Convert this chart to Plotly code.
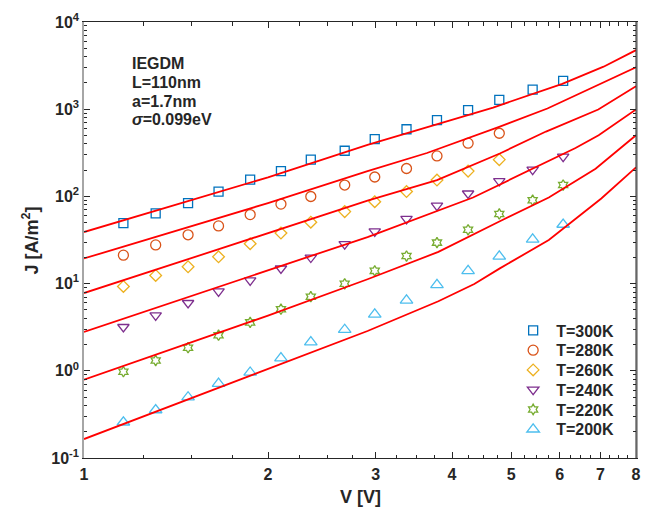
import numpy as np
import plotly.graph_objects as go

# Measured J-V points (voltage in V, current density in A/m^2)
v_meas = [1.16, 1.31, 1.48, 1.66, 1.87, 2.10, 2.35, 2.67, 2.99, 3.37, 3.78, 4.25, 4.78, 5.42, 6.08]

j_300 = [49.3, 64, 83.7, 113.6, 155.5, 195, 264, 334, 453, 589, 750, 975, 1278, 1673, 2115]
j_280 = [21.2, 27.8, 36.3, 45.9, 61.9, 81.6, 99.7, 135, 167, 209, 291, 408, 530]
j_260 = [9.27, 12.4, 15.6, 20.3, 28.7, 38.0, 50.6, 66.9, 86.9, 113.6, 154, 195, 264]
j_240 = [3.18, 4.31, 5.99, 8.14, 10.9, 14.9, 19.9, 28.3, 39.7, 55.1, 78.2, 108, 150, 203, 286]
j_220 = [0.975, 1.31, 1.84, 2.56, 3.59, 5.09, 7.08, 9.95, 14.0, 20.7, 29.5, 41.4, 62.9, 90.5, 135]
j_200 = [0.257, 0.355, 0.498, 0.713, 0.957, 1.40, 2.13, 2.96, 4.43, 6.43, 9.69, 14.0, 20.5, 32.2, 47.6]

# IEGDM model curves
fit_v_300 = [1, 2, 2.91, 3.78, 4.67, 6.06, 7.08, 8]
fit_j_300 = [39.0, 165.5, 390.7, 670.6, 1045, 1956, 3073, 4753]
fit_v_280 = [1, 2, 2.91, 3.64, 4.79, 5.73, 8]
fit_j_280 = [19.4, 83.8, 195.1, 314.6, 631.8, 1018, 3025]
fit_v_260 = [1, 2, 2.91, 3.78, 4.79, 5.70, 6.94, 8]
fit_j_260 = [7.79, 37.5, 89.2, 153.5, 310.5, 554.3, 992, 1832]
fit_v_240 = [1, 2, 2.91, 4.33, 5.42, 6.37, 6.95, 8]
fit_j_240 = [2.79, 14.0, 34.2, 97.2, 208.8, 358.4, 503.2, 992]
fit_v_220 = [1, 2, 2.91, 3.80, 4.79, 5.76, 6.87, 8]
fit_j_220 = [0.791, 4.30, 11.22, 23.1, 51.9, 97.2, 207.2, 503]
fit_v_200 = [1, 2, 2.91, 3.80, 4.35, 4.79, 5.76, 7.02, 8]
fit_j_200 = [0.165, 1.04, 2.86, 6.27, 9.90, 14.95, 31.6, 94.7, 215]

temps = ["T=300K", "T=280K", "T=260K", "T=240K", "T=220K", "T=200K"]
meas = [j_300, j_280, j_260, j_240, j_220, j_200]
fits = [(fit_v_300, fit_j_300), (fit_v_280, fit_j_280), (fit_v_260, fit_j_260),
        (fit_v_240, fit_j_240), (fit_v_220, fit_j_220), (fit_v_200, fit_j_200)]

colors = ["#0072BD", "#D95319", "#EDB120", "#7E2F8E", "#77AC30", "#4DBEEE"]
symbols = ["square-open", "circle-open", "diamond-open", "triangle-down-open",
           "hexagram-open", "triangle-up-open"]
sizes = [9, 10, 9, 10, 8, 11]

x_major = [1, 2, 3, 4, 5, 6, 7, 8]
x_minor = [v for v in np.arange(1.25, 8.0, 0.25) if abs(v - round(v)) > 1e-6]
y_major = [0.1, 1, 10, 100, 1000, 10000]
y_major_text = ["<b>10<sup>-1</sup></b>", "<b>10<sup>0</sup></b>", "<b>10<sup>1</sup></b>",
                "<b>10<sup>2</sup></b>", "<b>10<sup>3</sup></b>", "<b>10<sup>4</sup></b>"]
y_minor = [m * 10.0 ** e for e in range(-1, 4) for m in range(2, 10)]

ink = "#262626"
font_family = "Liberation Sans, Arial, sans-serif"

# plot area in pixels (used to place legend rows and text in paper units)
W, H = 652, 509
ML, MR, MT, MB = 84, 11, 17, 51
PW, PH = W - ML - MR, H - MT - MB


def px_x(px):
    return (px - ML) / PW


def px_y(py):
    return (H - MB - py) / PH


fig = go.Figure()

legend_names = ["legend", "legend2", "legend3", "legend4", "legend5", "legend6"]
for name, j, c, s, sz, lg in zip(temps, meas, colors, symbols, sizes, legend_names):
    fig.add_trace(go.Scatter(
        x=v_meas[:len(j)], y=j, mode="markers", name="<b>" + name + "</b>",
        marker=dict(symbol=s, size=sz, color=c, line=dict(width=1.3, color=c)),
        legend=lg,
    ))

for fv, fj in fits:
    fig.add_trace(go.Scatter(
        x=fv, y=fj, mode="lines", showlegend=False,
        line=dict(color="#FF0000", width=1.8),
    ))

# one single-entry legend per temperature, stacked 20 px apart
legend_rows = [329, 349, 369, 389, 409, 429]
legend_layout = {}
for lg, row in zip(legend_names, legend_rows):
    legend_layout[lg] = dict(
        x=px_x(514), y=px_y(row), xanchor="left", yanchor="middle",
        bgcolor="rgba(0,0,0,0)", borderwidth=0,
        font=dict(size=16, color=ink, family=font_family),
        itemwidth=36,
    )

fig.update_layout(
    width=W, height=H,
    margin=dict(l=ML, r=MR, t=MT, b=MB),
    paper_bgcolor="white", plot_bgcolor="white",
    font=dict(family=font_family, color=ink, size=16),
    showlegend=True,
    xaxis=dict(
        type="log", range=[0, np.log10(8)],
        tickmode="array", tickvals=x_major, ticktext=["<b>%d</b>" % v for v in x_major],
        ticks="inside", ticklen=6, tickwidth=1, tickcolor=ink,
        showline=True, linecolor=ink, linewidth=1, mirror="ticks",
        showgrid=False, zeroline=False, ticklabelstandoff=2,
        tickfont=dict(size=16, color=ink, family=font_family),
        minor=dict(tickmode="array", tickvals=x_minor, ticks="inside",
                   ticklen=3.5, tickwidth=1, tickcolor=ink, showgrid=False),
    ),
    yaxis=dict(
        type="log", range=[-1, 4],
        tickmode="array", tickvals=y_major, ticktext=y_major_text,
        ticks="inside", ticklen=6, tickwidth=1, tickcolor=ink,
        showline=True, linecolor="#a6a6a6", linewidth=1.5, mirror="ticks",
        showgrid=False, zeroline=False,
        tickfont=dict(size=16, color=ink, family=font_family),
        minor=dict(tickmode="array", tickvals=y_minor, ticks="inside",
                   ticklen=3.5, tickwidth=1, tickcolor=ink, showgrid=False),
    ),
    shapes=[dict(type="line", xref="paper", yref="paper", x0=1, x1=1, y0=0, y1=1,
                 line=dict(color=ink, width=1))],
    **legend_layout,
)

annotations = [
    dict(text="<b>V [V]</b>", x=0.5, y=px_y(497), xref="paper", yref="paper",
         xanchor="center", yanchor="middle", showarrow=False, font=dict(size=18)),
    dict(text="<b>J [A/m<sup>2</sup>]</b>", x=px_x(30), y=0.5, xref="paper", yref="paper",
         xanchor="center", yanchor="middle", textangle=-90, showarrow=False,
         font=dict(size=18)),
]
info_lines = ["<b>IEGDM</b>", "<b>L=110nm</b>", "<b>a=1.7nm</b>", "<b><i>σ</i>=0.099eV</b>"]
info_rows = [59, 78, 97, 116]
for txt, row in zip(info_lines, info_rows):
    annotations.append(dict(text=txt, x=px_x(130), y=px_y(row), xref="paper", yref="paper",
                            xanchor="left", yanchor="middle", showarrow=False,
                            font=dict(size=16)))
fig.update_layout(annotations=annotations)

fig.write_html("out.html")
